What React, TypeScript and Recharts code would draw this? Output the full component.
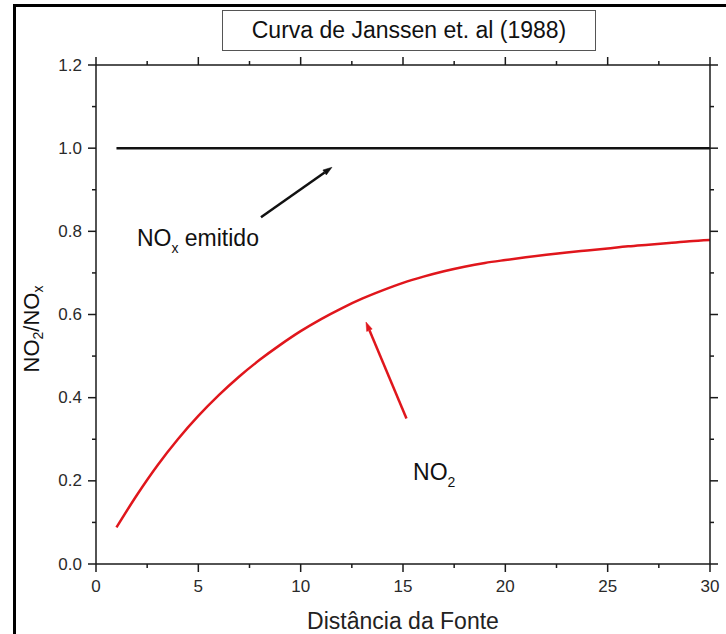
import React from 'react';
import { LineChart, Line, XAxis, YAxis, ReferenceLine, ReferenceDot } from 'recharts';

// ---- data ----
const distance = [1, 2, 3, 4, 5, 6, 7, 8, 9, 10, 11, 12, 13, 14, 15, 16, 17, 18, 19, 20, 21, 22, 23, 24, 25, 26, 27, 28, 29, 30];
const no2Ratio = [0.088, 0.166, 0.237, 0.3, 0.356, 0.406, 0.451, 0.491, 0.527, 0.56, 0.589, 0.615, 0.638, 0.658, 0.676, 0.691, 0.704, 0.715, 0.724, 0.731, 0.7375, 0.7435, 0.749, 0.754, 0.759, 0.764, 0.768, 0.772, 0.776, 0.779];
const noxDistance = [1, 30];
const noxRatio = [1.0, 1.0];

const xTicks = [0, 2.5, 5, 7.5, 10, 12.5, 15, 17.5, 20, 22.5, 25, 27.5, 30];
const xMajorTicks = [0, 5, 10, 15, 20, 25, 30];
const yTicks = [0, 0.1, 0.2, 0.3, 0.4, 0.5, 0.6, 0.7, 0.8, 0.9, 1.0, 1.1, 1.2];
const yMajorTicks = [0, 0.2, 0.4, 0.6, 0.8, 1.0, 1.2];

const titleText = 'Curva de Janssen et. al (1988)';
const xLabelText = 'Distância da Fonte';

// arrows (data coords)
const noxArrow = [{ x: 8.06, y: 0.834 }, { x: 11.53, y: 0.954 }];
const no2Arrow = [{ x: 15.17, y: 0.35 }, { x: 13.19, y: 0.582 }];
const noxLabelPos = { x: 2.0, y: 0.765 };
const no2LabelPos = { x: 15.49, y: 0.202 };

const no2Data = distance.map((d, i) => ({ x: d, y: no2Ratio[i] }));
const noxData = noxDistance.map((d, i) => ({ x: d, y: noxRatio[i] }));

const FONT = '"Liberation Sans", Arial, sans-serif';
const AXIS = '#1a1a1a';
const TEXT = '#2a2a2a';
const RED = '#e0161c';

const isMajor = (v: number, majors: number[]) => majors.some((m) => Math.abs(m - v) < 1e-6);

const BottomTick = (props: any) => {
  const { x, y, payload } = props;
  const v = payload.value;
  const major = isMajor(v, xMajorTicks);
  return (
    <g>
      <line x1={x} y1={y} x2={x} y2={y + (major ? 8 : 4)} stroke={AXIS} strokeWidth={1.5} />
      {major && (
        <text x={x} y={y + 22} textAnchor="middle" dominantBaseline="central" fontFamily={FONT} fontSize={17} fill={TEXT}>
          {String(v)}
        </text>
      )}
    </g>
  );
};

const TopTick = (props: any) => {
  const { x, y, payload } = props;
  const major = isMajor(payload.value, xMajorTicks);
  return <line x1={x} y1={y} x2={x} y2={y - (major ? 8 : 4)} stroke={AXIS} strokeWidth={1.5} />;
};

const LeftTick = (props: any) => {
  const { x, y, payload } = props;
  const v = payload.value;
  const major = isMajor(v, yMajorTicks);
  return (
    <g>
      <line x1={x} y1={y} x2={x - (major ? 8 : 4)} y2={y} stroke={AXIS} strokeWidth={1.5} />
      {major && (
        <text x={x - 14} y={y} textAnchor="end" dominantBaseline="central" fontFamily={FONT} fontSize={17} fill={TEXT}>
          {v.toFixed(1)}
        </text>
      )}
    </g>
  );
};

const RightTick = (props: any) => {
  const { x, y, payload } = props;
  const major = isMajor(payload.value, yMajorTicks);
  return <line x1={x} y1={y} x2={x + (major ? 8 : 4)} y2={y} stroke={AXIS} strokeWidth={1.5} />;
};

const makeArrow = (color: string, width: number) => (props: any) => {
  const { x1, y1, x2, y2 } = props;
  const dx = x2 - x1;
  const dy = y2 - y1;
  const len = Math.sqrt(dx * dx + dy * dy) || 1;
  const ux = dx / len;
  const uy = dy / len;
  const hl = 9;
  const hw = 3;
  const bx = x2 - ux * hl;
  const by = y2 - uy * hl;
  const px = -uy;
  const py = ux;
  return (
    <g>
      <line x1={x1} y1={y1} x2={bx} y2={by} stroke={color} strokeWidth={width} />
      <polygon
        points={`${x2},${y2} ${bx + px * hw},${by + py * hw} ${bx - px * hw},${by - py * hw}`}
        fill={color}
        stroke={color}
        strokeWidth={0.5}
      />
    </g>
  );
};

const NoxLabel = (props: any) => {
  const { viewBox } = props;
  return (
    <text x={viewBox.x} y={viewBox.y} fontFamily={FONT} fontSize={23} fill="#111">
      NO
      <tspan fontSize={14} dy={7}>x</tspan>
      <tspan dy={-7}> emitido</tspan>
    </text>
  );
};

const No2Label = (props: any) => {
  const { viewBox } = props;
  return (
    <text x={viewBox.x} y={viewBox.y} fontFamily={FONT} fontSize={23} fill="#111">
      NO
      <tspan fontSize={14} dy={7}>2</tspan>
    </text>
  );
};

const YLabel = (props: any) => {
  const { viewBox } = props;
  const cx = viewBox.x + 31;
  const cy = 329;
  return (
    <text
      x={cx}
      y={cy}
      transform={`rotate(-90 ${cx} ${cy})`}
      textAnchor="middle"
      dominantBaseline="central"
      fontFamily={FONT}
      fontSize={22}
      fill="#111"
    >
      NO
      <tspan fontSize={14} dy={7}>2</tspan>
      <tspan dy={-7}>/NO</tspan>
      <tspan fontSize={14} dy={7}>x</tspan>
    </text>
  );
};

const XLabel = (props: any) => {
  const { viewBox } = props;
  return (
    <text
      x={viewBox.x + viewBox.width / 2}
      y={621}
      textAnchor="middle"
      dominantBaseline="central"
      fontFamily={FONT}
      fontSize={23}
      fill="#222"
    >
      {xLabelText}
    </text>
  );
};

export default function App() {
  return (
    <div style={{ position: 'absolute', left: 0, top: 0, width: 726, height: 634, overflow: 'hidden', background: '#fff' }}>
      <LineChart width={726} height={634} margin={{ top: 0, right: 0, bottom: 0, left: 0 }}>
        <XAxis
          xAxisId="bottom"
          dataKey="x"
          type="number"
          orientation="bottom"
          domain={[0, 30]}
          ticks={xTicks}
          interval={0}
          height={70}
          tickSize={0}
          tickMargin={0}
          tick={<BottomTick />}
          axisLine={{ stroke: AXIS, strokeWidth: 1.5 }}
          tickLine={false}
          label={{ content: <XLabel /> }}
        />
        <XAxis
          xAxisId="top"
          dataKey="x"
          type="number"
          orientation="top"
          domain={[0, 30]}
          ticks={xTicks}
          interval={0}
          height={65}
          tickSize={0}
          tickMargin={0}
          tick={<TopTick />}
          axisLine={{ stroke: AXIS, strokeWidth: 1.5 }}
          tickLine={false}
        />
        <YAxis
          yAxisId="left"
          type="number"
          orientation="left"
          domain={[0, 1.2]}
          ticks={yTicks}
          interval={0}
          width={96}
          tickSize={0}
          tickMargin={0}
          tick={<LeftTick />}
          axisLine={{ stroke: AXIS, strokeWidth: 1.5 }}
          tickLine={false}
          label={{ content: <YLabel /> }}
        />
        <YAxis
          yAxisId="right"
          type="number"
          orientation="right"
          domain={[0, 1.2]}
          ticks={yTicks}
          interval={0}
          width={16}
          tickSize={0}
          tickMargin={0}
          tick={<RightTick />}
          axisLine={{ stroke: AXIS, strokeWidth: 1.5 }}
          tickLine={false}
        />
        <Line
          xAxisId="top"
          yAxisId="right"
          data={noxData}
          dataKey="y"
          stroke="none"
          dot={false}
          activeDot={false}
          isAnimationActive={false}
        />
        <Line
          xAxisId="bottom"
          yAxisId="left"
          data={noxData}
          dataKey="y"
          stroke="#111"
          strokeWidth={2.5}
          dot={false}
          activeDot={false}
          isAnimationActive={false}
        />
        <Line
          xAxisId="bottom"
          yAxisId="left"
          data={no2Data}
          dataKey="y"
          type="monotone"
          stroke={RED}
          strokeWidth={2.5}
          dot={false}
          activeDot={false}
          isAnimationActive={false}
        />
        <ReferenceLine xAxisId="bottom" yAxisId="left" segment={noxArrow} shape={makeArrow('#111', 2.5)} />
        <ReferenceLine xAxisId="bottom" yAxisId="left" segment={no2Arrow} shape={makeArrow(RED, 2.5)} />
        <ReferenceDot
          xAxisId="bottom"
          yAxisId="left"
          x={noxLabelPos.x}
          y={noxLabelPos.y}
          r={0}
          fill="none"
          stroke="none"
          label={{ content: <NoxLabel /> }}
        />
        <ReferenceDot
          xAxisId="bottom"
          yAxisId="left"
          x={no2LabelPos.x}
          y={no2LabelPos.y}
          r={0}
          fill="none"
          stroke="none"
          label={{ content: <No2Label /> }}
        />
      </LineChart>
      <div
        style={{
          position: 'absolute',
          left: 13,
          top: 4,
          width: 800,
          height: 800,
          borderLeft: '3px solid #000',
          borderTop: '3px solid #000',
          pointerEvents: 'none',
        }}
      />
      <div
        style={{
          position: 'absolute',
          left: 222,
          top: 10,
          width: 372,
          height: 39,
          border: '1px solid #555',
          background: '#fff',
          display: 'flex',
          alignItems: 'center',
          justifyContent: 'center',
          fontFamily: FONT,
          fontSize: 23,
          color: '#111',
        }}
      >
        {titleText}
      </div>
    </div>
  );
}
